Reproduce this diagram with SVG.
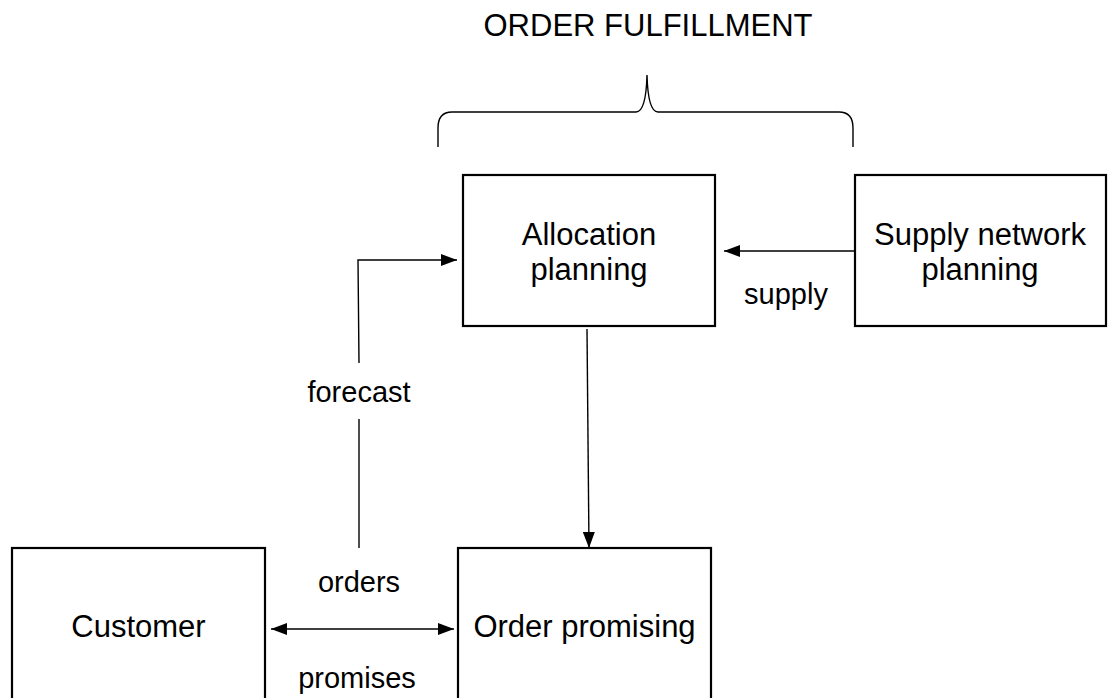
<svg xmlns="http://www.w3.org/2000/svg" width="1108" height="698" viewBox="0 0 1108 698">
<defs>
<style>
.box{fill:#fff;stroke:#000;stroke-width:2.2}
.nt{font-family:"Liberation Sans",Arial,sans-serif;font-size:31px;fill:#000;text-anchor:middle}
.lb{font-family:"Liberation Sans",Arial,sans-serif;font-size:29px;fill:#000;text-anchor:middle}
.ln{fill:none;stroke:#000;stroke-width:1.4}
</style>
<marker id="ah" viewBox="0 0 16 12" refX="16" refY="6" markerWidth="16" markerHeight="12" markerUnits="userSpaceOnUse" orient="auto-start-reverse">
<path d="M0,0 L16,6 L0,12 Z" fill="#000"/>
</marker>
</defs>
<rect width="1108" height="698" fill="#fff"/>
<g id="title">
<text class="nt" x="648" y="36">ORDER FULFILLMENT</text>
<path class="ln" d="M438,147 L438,128 Q438,112 452,112 L636,112 Q646,112 647,75 Q648,112 658,112 L839,112 Q853,112 853,128 L853,147"/>
</g>
<g id="allocation">
<rect class="box" x="463" y="175" width="252" height="151"/>
<text class="nt" x="589" y="245">Allocation</text>
<text class="nt" x="589" y="280">planning</text>
</g>
<g id="supply-network">
<rect class="box" x="855" y="175" width="251" height="151"/>
<text class="nt" x="980" y="245">Supply network</text>
<text class="nt" x="980" y="280">planning</text>
</g>
<g id="customer">
<rect class="box" x="12" y="548" width="253" height="152"/>
<text class="nt" x="138.5" y="637">Customer</text>
</g>
<g id="order-promising">
<rect class="box" x="458" y="548" width="253" height="152"/>
<text class="nt" x="584.5" y="637">Order promising</text>
</g>
<g id="connectors">
<path class="ln" d="M854,251 L724,251" marker-end="url(#ah)"/>
<path class="ln" d="M359,363 L358,260 L457,260" marker-end="url(#ah)"/>
<path class="ln" d="M359,419 L359,548"/>
<path class="ln" d="M587,329 L589,548" marker-end="url(#ah)"/>
<path class="ln" d="M271,629 L454,629" marker-start="url(#ah)" marker-end="url(#ah)"/>
<text class="lb" x="786" y="304">supply</text>
<text class="lb" x="359" y="402">forecast</text>
<text class="lb" x="359" y="592">orders</text>
<text class="lb" x="357" y="688">promises</text>
</g>
</svg>
